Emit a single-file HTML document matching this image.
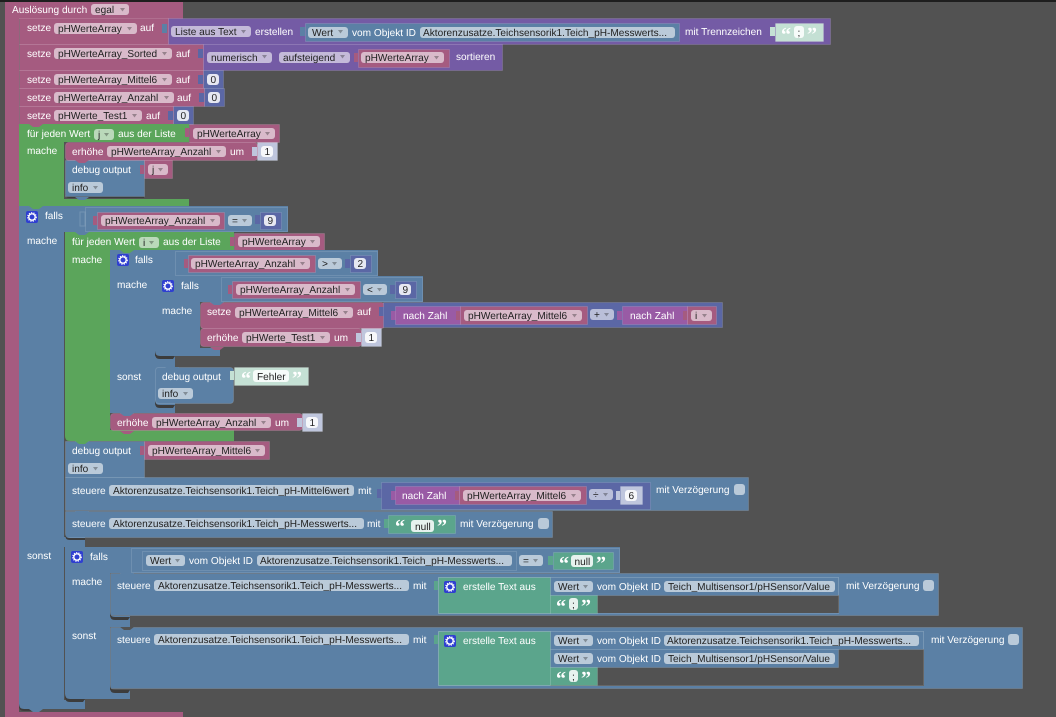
<!DOCTYPE html>
<html><head><meta charset="utf-8"><style>
html,body{margin:0;padding:0;background:#525252;width:1056px;height:717px;overflow:hidden}
svg{display:block;filter:blur(.25px)}
text{font-family:"Liberation Sans",sans-serif;font-size:10.1px;white-space:pre;text-rendering:geometricPrecision}
.w{fill:#fff}.d{fill:#222}
.qt{fill:#fff;font-family:"Liberation Serif",serif;font-size:20px;font-weight:bold}
.P{fill:#a55b80}.B{fill:#5b80a5}.G{fill:#5ba55b}.V{fill:#745ba5}.N{fill:#5b67a5}.Z{fill:#995ba5}.T{fill:#5ba58c}.L{fill:#c4e0d4}.K{fill:#bfc6dd}
.P,.B,.G,.V,.N,.Z,.T,.L,.K{stroke:#fff;stroke-opacity:.12;stroke-width:1}
.f{fill:#fff;fill-opacity:.58}
.q{fill:#fff;fill-opacity:.85;stroke:none}
.s{fill:#3c3c3c}
.o{fill:none;stroke:#fff;stroke-opacity:.12}
.c{fill:#525252}
</style></head><body>
<svg width="1056" height="717" viewBox="0 0 1056 717" xmlns="http://www.w3.org/2000/svg">
<defs><path id="a" d="M0 0h5l-2.5 3.5z" fill="#000" fill-opacity=".3"/>
<path id="n" d="M0 0l4 3h6l4-3z"/>
<g id="gear"><rect width="12" height="12" rx="2" fill="#2f3fd0"/><circle cx="6" cy="6" r="3.2" fill="none" stroke="#fff" stroke-width="1.4"/><circle cx="6" cy="6" r="4.3" fill="none" stroke="#fff" stroke-width="1.1" stroke-dasharray="1.2 1.2"/></g></defs>
<rect width="1056" height="717" fill="#525252"/>
<rect width="1056" height="2" fill="#1e1e1e"/>

<!-- hat -->
<rect x="5" y="2" width="178" height="17" fill="#a55b80"/>
<rect x="5" y="2" width="14" height="715" fill="#a55b80"/>
<rect x="5" y="712" width="178" height="5" fill="#a55b80"/>
<text class="w" x="12" y="13">Auslösung durch</text>
<rect class="f" x="91" y="4" width="38" height="11" rx="3"/><text class="d" x="95" y="13">egal</text><use href="#a" x="120" y="8"/>

<!-- row 1 -->
<rect class="P" x="19.5" y="18.5" width="149" height="26"/>
<text class="w" x="27" y="31">setze</text>
<rect class="f" x="54" y="23" width="83" height="11" rx="3"/><text class="d" x="58" y="32">pHWerteArray</text><use href="#a" x="127" y="27"/>
<text class="w" x="140" y="31">auf</text>
<rect x="162" y="24" width="5" height="9" fill="#5b80a5"/>
<rect class="V" x="168.5" y="18.5" width="662" height="26"/>
<rect class="f" x="171" y="26" width="80" height="11" rx="3"/><text class="d" x="175" y="35">Liste aus Text</text><use href="#a" x="241" y="30"/>
<text class="w" x="255" y="35">erstellen</text>
<rect x="300" y="27" width="5" height="9" fill="#5b80a5"/>
<rect class="B" x="305.5" y="23.5" width="374" height="18"/>
<rect class="f" x="308" y="27" width="40" height="11" rx="3"/><text class="d" x="312" y="36">Wert</text><use href="#a" x="338" y="30"/>
<text class="w" x="352" y="36">vom Objekt ID</text>
<rect class="f" x="420" y="27" width="255" height="11" rx="3"/><text class="d" x="423" y="36">Aktorenzusatze.Teichsensorik1.Teich_pH-Messwerts...</text>
<text class="w" x="685" y="35">mit Trennzeichen</text>
<rect x="770" y="27" width="5" height="9" fill="#c4e0d4"/>
<rect class="L" x="775.5" y="23.5" width="48" height="18"/>
<text class="qt" x="781" y="41">“</text>
<rect class="q" x="794" y="26" width="10" height="12" rx="3"/><text class="d" x="797.5" y="36">;</text>
<text class="qt" x="807" y="41">”</text>

<!-- row 2 -->
<rect class="P" x="19.5" y="44.5" width="184" height="26"/>
<text class="w" x="27" y="57">setze</text>
<rect class="f" x="54" y="48" width="118" height="11" rx="3"/><text class="d" x="58" y="57">pHWerteArray_Sorted</text><use href="#a" x="162" y="52"/>
<text class="w" x="176" y="57">auf</text>
<rect x="198" y="49" width="5" height="9" fill="#5b67a5"/>
<rect class="V" x="203.5" y="44.5" width="299" height="26"/>
<rect class="f" x="207" y="52" width="65" height="11" rx="3"/><text class="d" x="211" y="61">numerisch</text><use href="#a" x="262" y="55"/>
<rect class="f" x="279" y="52" width="71" height="11" rx="3"/><text class="d" x="283" y="61">aufsteigend</text><use href="#a" x="340" y="55"/>
<rect x="354" y="53" width="4" height="9" fill="#a55b80"/>
<rect class="P" x="358.5" y="49.5" width="91" height="18"/>
<rect class="f" x="361" y="52" width="83" height="11" rx="3"/><text class="d" x="365" y="61">pHWerteArray</text><use href="#a" x="434" y="56"/>
<text class="w" x="456" y="60">sortieren</text>

<!-- row 3 -->
<rect class="P" x="19.5" y="70.5" width="184" height="18"/>
<text class="w" x="27" y="83">setze</text>
<rect class="f" x="54" y="74" width="118" height="11" rx="3"/><text class="d" x="58" y="83">pHWerteArray_Mittel6</text><use href="#a" x="162" y="78"/>
<text class="w" x="176" y="83">auf</text>
<rect x="198" y="75" width="5" height="9" fill="#5b67a5"/>
<rect class="N" x="203.5" y="70.5" width="20" height="18"/>
<rect class="q" x="207" y="74" width="12" height="11" rx="3"/><text class="d" x="210.5" y="83">0</text>

<!-- row 4 -->
<rect class="P" x="19.5" y="88.5" width="185" height="18"/>
<text class="w" x="27" y="101">setze</text>
<rect class="f" x="54" y="92" width="120" height="11" rx="3"/><text class="d" x="58" y="101">pHWerteArray_Anzahl</text><use href="#a" x="164" y="96"/>
<text class="w" x="177" y="101">auf</text>
<rect x="199" y="93" width="5" height="9" fill="#5b67a5"/>
<rect class="N" x="204.5" y="88.5" width="20" height="18"/>
<rect class="q" x="208" y="92" width="12" height="11" rx="3"/><text class="d" x="211.5" y="101">0</text>

<!-- row 5 -->
<rect class="P" x="19.5" y="106.5" width="154" height="18"/>
<text class="w" x="27" y="119">setze</text>
<rect class="f" x="54" y="110" width="88" height="11" rx="3"/><text class="d" x="58" y="119">pHWerte_Test1</text><use href="#a" x="132" y="114"/>
<text class="w" x="146" y="119">auf</text>
<rect x="168" y="111" width="5" height="9" fill="#5b67a5"/>
<rect class="N" x="173.5" y="106.5" width="20" height="18"/>
<rect class="q" x="177" y="110" width="12" height="11" rx="3"/><text class="d" x="180.5" y="119">0</text>

<!-- for j -->
<path d="M19 124H189V142H64V199H189V206H19Z" fill="#5ba55b"/>
<use href="#n" x="29" y="124" fill="#a55b80"/>
<text class="w" x="27" y="137">für jeden Wert</text>
<rect class="f" x="94" y="129" width="20" height="11" rx="3"/><text class="d" x="98" y="138">j</text><use href="#a" x="104" y="133"/>
<text class="w" x="118" y="137">aus der Liste</text>
<rect x="185" y="128" width="4" height="9" fill="#a55b80"/>
<rect class="P" x="189.5" y="124.5" width="90" height="18"/>
<rect class="f" x="193" y="128" width="82" height="11" rx="3"/><text class="d" x="197" y="137">pHWerteArray</text><use href="#a" x="265" y="132"/>
<text class="w" x="27" y="154">mache</text>
<path d="M65 195h79v3H70q-5 0-5-5z" class="s"/>
<rect class="P" x="65.5" y="142.5" width="192" height="18" rx="3"/>
<text class="w" x="72" y="155">erhöhe</text>
<rect class="f" x="107" y="146" width="119" height="11" rx="3"/><text class="d" x="111" y="155">pHWerteArray_Anzahl</text><use href="#a" x="216" y="150"/>
<text class="w" x="230" y="155">um</text>
<rect x="252" y="147" width="5" height="9" fill="#bfc6dd"/>
<rect class="K" x="257.5" y="142.5" width="20" height="18"/>
<rect class="q" x="261" y="146" width="12" height="11" rx="3"/><text class="d" x="264.5" y="155">1</text>
<rect class="B" x="65.5" y="160.5" width="79" height="36"/>
<use href="#n" x="75" y="160" fill="#a55b80"/>
<use href="#n" x="75" y="197" fill="#5b80a5"/>
<text class="w" x="72" y="173">debug output</text>
<rect x="140" y="165" width="4" height="9" fill="#a55b80"/>
<rect class="P" x="144.5" y="160.5" width="28" height="18"/>
<rect class="f" x="148" y="164" width="20" height="11" rx="3"/><text class="d" x="152" y="173">j</text><use href="#a" x="158" y="168"/>
<rect class="f" x="68" y="182" width="35" height="11" rx="3"/><text class="d" x="72" y="191">info</text><use href="#a" x="93" y="186"/>

<!-- falls main -->
<path d="M19 206H288V232H64V700H85V709H24Q19 709 19 704Z" fill="#5b80a5"/>
<rect x="64" y="537" width="21" height="10" fill="#5b80a5"/>
<path d="M19 704q0 5 5 5h10l-1 2H24q-5 0-5-5z" class="s"/>
<use href="#n" x="29" y="206" fill="#5ba55b"/>
<use href="#n" x="29" y="709" fill="#5b80a5"/>
<use href="#gear" x="26" y="211"/>
<text class="w" x="45" y="219">falls</text>
<path d="M80 212h5v14h-5z" fill="none" stroke="#fff" stroke-opacity=".15"/>
<rect class="o" x="85.5" y="207.5" width="202" height="24"/>
<rect x="93" y="216" width="4" height="9" fill="#a55b80"/>
<rect class="P" x="97.5" y="212.5" width="127" height="17"/>
<rect class="f" x="101" y="215" width="119" height="11" rx="3"/><text class="d" x="105" y="224">pHWerteArray_Anzahl</text><use href="#a" x="210" y="219"/>
<rect class="f" x="228" y="215" width="24" height="11" rx="3"/><text class="d" x="232" y="224">=</text><use href="#a" x="242" y="219"/>
<rect x="255" y="215" width="5" height="9" fill="#5b67a5"/>
<rect class="N" x="260.5" y="212.5" width="21" height="17"/>
<rect class="q" x="264" y="215" width="12" height="11" rx="3"/><text class="d" x="267.5" y="224">9</text>
<text class="w" x="27" y="244">mache</text>
<text class="w" x="27" y="559">sonst</text>

<!-- for i -->
<path d="M65 232H234V250H110V430H234V441H70Q65 441 65 436Z" fill="#5ba55b"/>
<use href="#n" x="75" y="232" fill="#5b80a5"/>
<text class="w" x="72" y="245">für jeden Wert</text>
<rect class="f" x="139" y="237" width="20" height="11" rx="3"/><text class="d" x="143" y="246">i</text><use href="#a" x="149" y="241"/>
<text class="w" x="163" y="245">aus der Liste</text>
<rect x="230" y="237" width="4" height="9" fill="#a55b80"/>
<rect class="P" x="234.5" y="233.5" width="90" height="17"/>
<rect class="f" x="238" y="236" width="82" height="11" rx="3"/><text class="d" x="242" y="245">pHWerteArray</text><use href="#a" x="310" y="240"/>
<text class="w" x="72" y="263">mache</text>

<!-- falls 2 -->
<path d="M110 250H378V276H155V413H110Z" fill="#5b80a5"/>
<path d="M155 356h20v57h-20z" fill="#5b80a5"/>
<use href="#n" x="120" y="250" fill="#5ba55b"/>
<use href="#gear" x="117" y="254"/>
<text class="w" x="135" y="263">falls</text>
<rect class="o" x="175.5" y="251.5" width="202" height="24"/>
<rect x="184" y="259" width="4" height="9" fill="#a55b80"/>
<rect class="P" x="188.5" y="255.5" width="127" height="17"/>
<rect class="f" x="191" y="258" width="119" height="11" rx="3"/><text class="d" x="195" y="267">pHWerteArray_Anzahl</text><use href="#a" x="300" y="262"/>
<rect class="f" x="318" y="258" width="24" height="11" rx="3"/><text class="d" x="322" y="267">&gt;</text><use href="#a" x="332" y="262"/>
<rect x="345" y="259" width="5" height="9" fill="#5b67a5"/>
<rect class="N" x="350.5" y="255.5" width="21" height="17"/>
<rect class="q" x="354" y="258" width="12" height="11" rx="3"/><text class="d" x="357.5" y="267">2</text>
<text class="w" x="117" y="288">mache</text>
<text class="w" x="117" y="380">sonst</text>

<!-- falls 3 -->
<path d="M155 276H423V302H200V348H220V356H160Q155 356 155 351Z" fill="#5b80a5"/>
<path d="M155 351q0 5 5 5h15l-2 3H160q-5 0-5-5z" class="s"/>
<use href="#gear" x="162" y="280"/>
<text class="w" x="181" y="289">falls</text>
<rect class="o" x="221.5" y="277.5" width="201" height="24"/>
<rect x="228" y="285" width="4" height="9" fill="#a55b80"/>
<rect class="P" x="232.5" y="281.5" width="128" height="17"/>
<rect class="f" x="236" y="284" width="119" height="11" rx="3"/><text class="d" x="240" y="293">pHWerteArray_Anzahl</text><use href="#a" x="345" y="288"/>
<rect class="f" x="363" y="284" width="24" height="11" rx="3"/><text class="d" x="367" y="293">&lt;</text><use href="#a" x="377" y="288"/>
<rect x="390" y="285" width="5" height="9" fill="#5b67a5"/>
<rect class="N" x="395.5" y="281.5" width="21" height="17"/>
<rect class="q" x="399" y="284" width="12" height="11" rx="3"/><text class="d" x="402.5" y="293">9</text>
<text class="w" x="162" y="314">mache</text>

<!-- setze Mittel6 -->
<rect class="P" x="200.5" y="302.5" width="184" height="26" rx="3"/>
<use href="#n" x="210" y="302" fill="#5b80a5"/>
<text class="w" x="207" y="315">setze</text>
<rect class="f" x="235" y="307" width="118" height="11" rx="3"/><text class="d" x="239" y="316">pHWerteArray_Mittel6</text><use href="#a" x="343" y="311"/>
<text class="w" x="357" y="315">auf</text>
<rect x="379" y="307" width="5" height="9" fill="#5b67a5"/>
<rect class="N" x="383.5" y="302.5" width="339" height="25"/>
<rect x="391" y="311" width="5" height="9" fill="#995ba5"/>
<rect class="Z" x="395.5" y="306.5" width="65" height="18"/>
<text class="w" x="403" y="319">nach Zahl</text>
<rect x="456" y="311" width="4" height="9" fill="#a55b80"/>
<rect class="P" x="460.5" y="306.5" width="127" height="18"/>
<rect class="f" x="464" y="310" width="118" height="11" rx="3"/><text class="d" x="468" y="319">pHWerteArray_Mittel6</text><use href="#a" x="572" y="314"/>
<rect class="f" x="590" y="309" width="24" height="11" rx="3"/><text class="d" x="594" y="318">+</text><use href="#a" x="604" y="313"/>
<rect x="617" y="311" width="5" height="9" fill="#995ba5"/>
<rect class="Z" x="622.5" y="306.5" width="65" height="18"/>
<text class="w" x="630" y="319">nach Zahl</text>
<rect x="683" y="311" width="4" height="9" fill="#a55b80"/>
<rect class="P" x="687.5" y="306.5" width="29" height="18"/>
<rect class="f" x="691" y="310" width="21" height="11" rx="3"/><text class="d" x="695" y="319">i</text><use href="#a" x="702" y="314"/>

<!-- erhöhe Test1 -->
<rect class="P" x="200.5" y="328.5" width="161" height="18" rx="3"/>
<use href="#n" x="210" y="347" fill="#a55b80"/>
<text class="w" x="207" y="341">erhöhe</text>
<rect class="f" x="242" y="332" width="88" height="11" rx="3"/><text class="d" x="246" y="341">pHWerte_Test1</text><use href="#a" x="320" y="336"/>
<text class="w" x="334" y="341">um</text>
<rect x="356" y="333" width="5" height="9" fill="#bfc6dd"/>
<rect class="K" x="361.5" y="328.5" width="20" height="18"/>
<rect class="q" x="365" y="332" width="12" height="11" rx="3"/><text class="d" x="368.5" y="341">1</text>

<!-- sonst debug -->
<rect class="B" x="155.5" y="367.5" width="78" height="36" rx="3"/>
<use href="#n" x="165" y="367" fill="#5b80a5"/>
<text class="w" x="162" y="380">debug output</text>
<rect x="230" y="371" width="4" height="9" fill="#c4e0d4"/>
<rect class="L" x="234.5" y="367.5" width="74" height="18"/>
<text class="qt" x="241" y="385">“</text>
<rect class="q" x="253" y="370" width="36" height="12" rx="3"/><text class="d" x="257" y="380">Fehler</text>
<text class="qt" x="292" y="385">”</text>
<rect class="f" x="158" y="388" width="35" height="11" rx="3"/><text class="d" x="162" y="397">info</text><use href="#a" x="183" y="392"/>
<path d="M155 400q0 5 5 5h15l-2 3H160q-5 0-5-5z" class="s"/>

<!-- erhöhe Anzahl -->
<rect class="P" x="110.5" y="413.5" width="192" height="17" rx="3"/>
<use href="#n" x="120" y="413" fill="#5b80a5"/>
<use href="#n" x="120" y="431" fill="#a55b80"/>
<text class="w" x="117" y="426">erhöhe</text>
<rect class="f" x="152" y="417" width="119" height="11" rx="3"/><text class="d" x="156" y="426">pHWerteArray_Anzahl</text><use href="#a" x="261" y="421"/>
<text class="w" x="275" y="426">um</text>
<rect x="297" y="418" width="5" height="9" fill="#bfc6dd"/>
<rect class="K" x="302.5" y="413.5" width="20" height="18"/>
<rect class="q" x="306" y="417" width="12" height="11" rx="3"/><text class="d" x="309.5" y="426">1</text>

<!-- debug Mittel6 -->
<rect class="B" x="65.5" y="441.5" width="79" height="36"/>
<use href="#n" x="75" y="441" fill="#5ba55b"/>
<text class="w" x="72" y="454">debug output</text>
<rect x="140" y="446" width="4" height="9" fill="#a55b80"/>
<rect class="P" x="144.5" y="441.5" width="125" height="18"/>
<rect class="f" x="148" y="445" width="117" height="11" rx="3"/><text class="d" x="152" y="454">pHWerteArray_Mittel6</text><use href="#a" x="255" y="449"/>
<rect class="f" x="68" y="463" width="35" height="11" rx="3"/><text class="d" x="72" y="472">info</text><use href="#a" x="93" y="467"/>

<!-- steuere Mittel6wert -->
<rect class="B" x="65.5" y="477.5" width="683" height="33"/>
<text class="w" x="72" y="494">steuere</text>
<rect class="f" x="109" y="485" width="245" height="11" rx="3"/><text class="d" x="113" y="494">Aktorenzusatze.Teichsensorik1.Teich_pH-Mittel6wert</text>
<text class="w" x="358" y="494">mit</text>
<rect x="377" y="489" width="5" height="9" fill="#5b67a5"/>
<rect class="N" x="381.5" y="482.5" width="269" height="27"/>
<rect x="391" y="491" width="5" height="9" fill="#995ba5"/>
<rect class="Z" x="395.5" y="486.5" width="64" height="18"/>
<text class="w" x="402" y="499">nach Zahl</text>
<rect x="455" y="491" width="4" height="9" fill="#a55b80"/>
<rect class="P" x="459.5" y="486.5" width="127" height="18"/>
<rect class="f" x="463" y="490" width="118" height="11" rx="3"/><text class="d" x="467" y="499">pHWerteArray_Mittel6</text><use href="#a" x="571" y="494"/>
<rect class="f" x="589" y="489" width="24" height="11" rx="3"/><text class="d" x="593" y="498">÷</text><use href="#a" x="603" y="493"/>
<rect x="616" y="491" width="4" height="9" fill="#bfc6dd"/>
<rect class="K" x="620.5" y="486.5" width="22" height="18"/>
<rect class="q" x="625" y="490" width="12" height="11" rx="3"/><text class="d" x="628.5" y="499">6</text>
<text class="w" x="656" y="493">mit Verzögerung</text>
<rect class="f" x="734" y="484" width="11" height="11" rx="3"/>

<!-- steuere Messwerts null -->
<rect class="B" x="65.5" y="511.5" width="487" height="26"/>
<path d="M65 533q0 5 5 5h15v2H70q-5 0-5-5z" class="s"/>
<use href="#n" x="75" y="511" fill="#5b80a5"/>
<text class="w" x="72" y="527">steuere</text>
<rect class="f" x="109" y="518" width="255" height="11" rx="3"/><text class="d" x="113" y="527">Aktorenzusatze.Teichsensorik1.Teich_pH-Messwerts...</text>
<text class="w" x="367" y="527">mit</text>
<rect x="384" y="519" width="5" height="9" fill="#5ba58c"/>
<rect class="T" x="388.5" y="515.5" width="67" height="18"/>
<text class="qt" x="395" y="533">“</text>
<rect class="q" x="411" y="520" width="23" height="12" rx="3"/><text class="d" x="415" y="530">null</text>
<text class="qt" x="437" y="533">”</text>
<text class="w" x="460" y="527">mit Verzögerung</text>
<rect class="f" x="538" y="518" width="11" height="11" rx="3"/>

<!-- falls sonst -->
<path d="M65 547H620V573H110V690H130V699H70Q65 699 65 694Z" fill="#5b80a5"/>
<path d="M65 694q0 5 5 5h15l-2 3H70q-5 0-5-5z" class="s"/>
<use href="#n" x="75" y="547" fill="#5b80a5"/>
<use href="#gear" x="71" y="551"/>
<text class="w" x="90" y="560">falls</text>
<rect class="o" x="131.5" y="548.5" width="488" height="24"/>
<rect class="o" x="142.5" y="551.5" width="374" height="19"/>
<rect class="f" x="146" y="555" width="39" height="11" rx="3"/><text class="d" x="150" y="564">Wert</text><use href="#a" x="175" y="559"/>
<text class="w" x="189" y="564">vom Objekt ID</text>
<rect class="f" x="257" y="555" width="255" height="11" rx="3"/><text class="d" x="260" y="564">Aktorenzusatze.Teichsensorik1.Teich_pH-Messwerts...</text>
<rect class="f" x="519" y="555" width="24" height="11" rx="3"/><text class="d" x="523" y="564">=</text><use href="#a" x="533" y="559"/>
<rect x="548" y="556" width="5" height="9" fill="#5ba58c"/>
<rect class="T" x="553.5" y="552.5" width="60" height="17"/>
<text class="qt" x="559" y="570">“</text>
<rect class="q" x="571" y="555" width="22" height="12" rx="3"/><text class="d" x="574.5" y="565">null</text>
<text class="qt" x="596" y="570">”</text>
<text class="w" x="72" y="585">mache</text>
<text class="w" x="72" y="639">sonst</text>

<!-- steuere mache -->
<rect x="110" y="616" width="20" height="11" fill="#5b80a5"/>
<rect class="B" x="110.5" y="573.5" width="828" height="42"/>
<use href="#n" x="120" y="573" fill="#5b80a5"/>
<path d="M110 612q0 5 5 5h15l-2 3H115q-5 0-5-5z" class="s"/>
<text class="w" x="117" y="589">steuere</text>
<rect class="f" x="154" y="580" width="255" height="11" rx="3"/><text class="d" x="158" y="589">Aktorenzusatze.Teichsensorik1.Teich_pH-Messwerts...</text>
<text class="w" x="413" y="589">mit</text>
<rect x="434" y="581" width="4" height="9" fill="#5ba58c"/>
<rect class="c" x="550" y="595" width="289" height="18"/>
<rect class="T" x="438.5" y="577.5" width="112" height="36"/>
<use href="#gear" x="444" y="581"/>
<text class="w" x="463" y="590">erstelle Text aus</text>
<rect class="o" x="438.5" y="577.5" width="400" height="36"/>
<rect class="B" x="550.5" y="577.5" width="288" height="18"/>
<rect class="f" x="554" y="581" width="39" height="11" rx="3"/><text class="d" x="558" y="590">Wert</text><use href="#a" x="583" y="585"/>
<text class="w" x="597" y="590">vom Objekt ID</text>
<rect class="f" x="664" y="581" width="171" height="11" rx="3"/><text class="d" x="668" y="590">Teich_Multisensor1/pHSensor/Value</text>
<rect class="T" x="550.5" y="595.5" width="47" height="18"/>
<text class="qt" x="556" y="613">“</text>
<rect class="q" x="569" y="598" width="9" height="12" rx="3"/><text class="d" x="572" y="608">;</text>
<text class="qt" x="581" y="613">”</text>
<text class="w" x="846" y="589">mit Verzögerung</text>
<rect class="f" x="923" y="580" width="11" height="11" rx="3"/>

<!-- steuere sonst -->
<rect class="B" x="110.5" y="627.5" width="912" height="61"/>
<use href="#n" x="120" y="627" fill="#525252"/>
<path d="M110 685q0 5 5 5h15l-2 3H115q-5 0-5-5z" class="s"/>
<text class="w" x="117" y="643">steuere</text>
<rect class="f" x="154" y="634" width="255" height="11" rx="3"/><text class="d" x="158" y="643">Aktorenzusatze.Teichsensorik1.Teich_pH-Messwerts...</text>
<text class="w" x="413" y="643">mit</text>
<rect x="434" y="635" width="4" height="9" fill="#5ba58c"/>
<rect class="c" x="550" y="649" width="374" height="37"/>
<rect class="T" x="438.5" y="631.5" width="112" height="54"/>
<use href="#gear" x="444" y="635"/>
<text class="w" x="463" y="644">erstelle Text aus</text>
<rect class="o" x="438.5" y="631.5" width="485" height="54"/>
<rect class="B" x="550.5" y="631.5" width="373" height="18"/>
<rect class="f" x="554" y="635" width="39" height="11" rx="3"/><text class="d" x="558" y="644">Wert</text><use href="#a" x="583" y="639"/>
<text class="w" x="597" y="644">vom Objekt ID</text>
<rect class="f" x="664" y="635" width="255" height="11" rx="3"/><text class="d" x="667" y="644">Aktorenzusatze.Teichsensorik1.Teich_pH-Messwerts...</text>
<rect class="B" x="550.5" y="649.5" width="288" height="18"/>
<rect class="f" x="554" y="653" width="39" height="11" rx="3"/><text class="d" x="558" y="662">Wert</text><use href="#a" x="583" y="657"/>
<text class="w" x="597" y="662">vom Objekt ID</text>
<rect class="f" x="664" y="653" width="171" height="11" rx="3"/><text class="d" x="668" y="662">Teich_Multisensor1/pHSensor/Value</text>
<rect class="T" x="550.5" y="667.5" width="47" height="18"/>
<text class="qt" x="556" y="685">“</text>
<rect class="q" x="569" y="670" width="9" height="12" rx="3"/><text class="d" x="572" y="680">;</text>
<text class="qt" x="581" y="685">”</text>
<text class="w" x="931" y="643">mit Verzögerung</text>
<rect class="f" x="1008" y="634" width="11" height="11" rx="3"/>
</svg>
</body></html>
